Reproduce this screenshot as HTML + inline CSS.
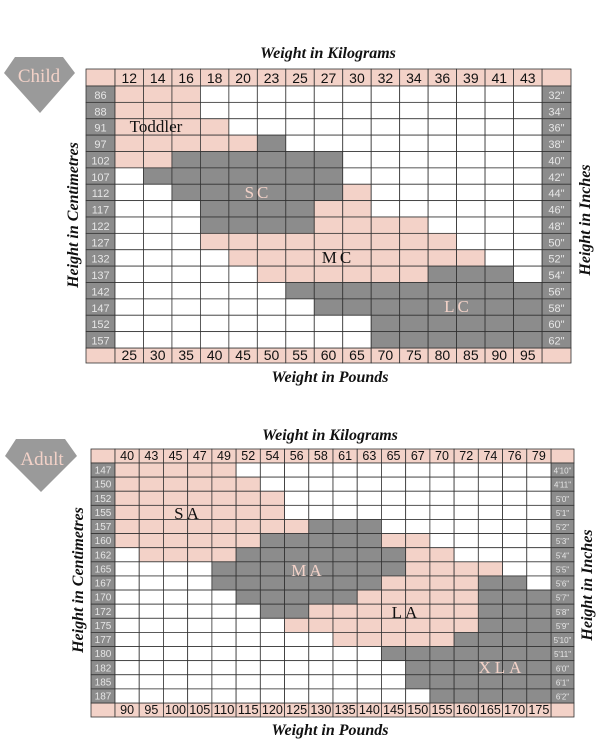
<!DOCTYPE html>
<html><head><meta charset="utf-8"><style>
body{margin:0;background:#fff;width:600px;height:750px;overflow:hidden}
svg{display:block}
.t{font-family:"Liberation Serif",serif;font-style:italic;font-weight:bold;font-size:16px;fill:#111}
.n{font-family:"Liberation Sans",sans-serif;fill:#111}
.w{font-family:"Liberation Sans",sans-serif;fill:#e6e6e6}
.lab{font-family:"Liberation Serif",serif;font-size:17px}
</style></head><body>
<svg id="s" width="600" height="750" xmlns="http://www.w3.org/2000/svg"></svg>
<script>
const P='#f3d2c8',G='#8c8c8c',W='#ffffff';
let h='';
function rect(x,y,w,hh,f){h+=`<rect x="${x}" y="${y}" width="${w}" height="${hh}" fill="${f}" stroke="#333" stroke-width="0.8"/>`;}
function txt(x,y,s,c,sz,extra){h+=`<text x="${x}" y="${y}" class="${c}" font-size="${sz}" text-anchor="middle" ${extra||''}>${s}</text>`;}
function chart(o){
 const cw=(o.x2-o.x1)/o.top.length, rh=(o.y2-o.y1)/o.left.length;
 rect(o.x0,o.y0,o.x1-o.x0,o.y1-o.y0,P);
 rect(o.x2,o.y0,o.x3-o.x2,o.y1-o.y0,P);
 rect(o.x0,o.y2,o.x1-o.x0,o.y3-o.y2,P);
 rect(o.x2,o.y2,o.x3-o.x2,o.y3-o.y2,P);
 o.top.forEach((v,i)=>{rect(o.x1+i*cw,o.y0,cw,o.y1-o.y0,P);txt(o.x1+i*cw+cw/2,o.y1-3,v,'n',o.hs);
  rect(o.x1+i*cw,o.y2,cw,o.y3-o.y2,P);
  const b=String(o.bot[i]);
  txt(o.x1+i*cw+cw/2,o.y3-3,b,'n',o.hs,(o.bx&&b.length==3)?o.bx:'');});
 o.left.forEach((v,r)=>{
  rect(o.x0,o.y1+r*rh,o.x1-o.x0,rh,G);txt((o.x0+o.x1)/2,o.y1+r*rh+rh-3.5,v,'w',o.ls);
  rect(o.x2,o.y1+r*rh,o.x3-o.x2,rh,G);txt((o.x2+o.x3)/2,o.y1+r*rh+rh-3.5,o.right[r],'w',o.rs,o.rx||'');
  const row=o.map[r];
  for(let c=0;c<o.top.length;c++){
   let f=W;
   for(const [a,b,col] of row){if(c>=a&&c<=b)f=col;}
   rect(o.x1+c*cw,o.y1+r*rh,cw,rh,f);
  }
 });
}
const p=(a,b)=>[a,b,P],g=(a,b)=>[a,b,G];
chart({x0:86,x1:115,x2:542,x3:571,y0:69,y1:86,y2:348,y3:363,hs:14,ls:11,rs:11,
 top:[12,14,16,18,20,23,25,27,30,32,34,36,39,41,43],
 bot:[25,30,35,40,45,50,55,60,65,70,75,80,85,90,95],
 left:[86,88,91,97,102,107,112,117,122,127,132,137,142,147,152,157],
 right:['32"','34"','36"','38"','40"','42"','44"','46"','48"','50"','52"','54"','56"','58"','60"','62"'],
 map:[[p(0,2)],[p(0,2)],[p(0,3)],[p(0,4),g(5,5)],[p(0,1),g(2,7)],[g(1,7)],[g(2,7),p(8,8)],[g(3,6),p(7,8)],[g(3,6),p(7,10)],[p(3,11)],[p(4,12)],[p(5,10),g(11,13)],[g(6,14)],[g(7,14)],[g(9,14)],[g(9,14)]]});
chart({x0:91,x1:115,x2:551,x3:574,y0:449,y1:463,y2:703,y3:717,hs:12.5,ls:10,rs:8,bx:'textLength="21" lengthAdjust="spacingAndGlyphs"',
 top:[40,43,45,47,49,52,54,56,58,61,63,65,67,70,72,74,76,79],
 bot:[90,95,100,105,110,115,120,125,130,135,140,145,150,155,160,165,170,175],
 left:[147,150,152,155,157,160,162,165,167,170,172,175,177,180,182,185,187],
 right:["4'10\"","4'11\"","5'0\"","5'1\"","5'2\"","5'3\"","5'4\"","5'5\"","5'6\"","5'7\"","5'8\"","5'9\"","5'10\"","5'11\"","6'0\"","6'1\"","6'2\""],
 map:[[p(0,4)],[p(0,5)],[p(0,6)],[p(0,6)],[p(0,7),g(8,10)],[p(0,5),g(6,10),p(11,12)],[p(1,4),g(5,11),p(12,13)],[g(4,11),p(12,15)],[g(4,10),p(11,14),g(15,16)],[g(5,9),p(10,14),g(15,17)],[g(6,7),p(8,14),g(15,17)],[p(7,14),g(15,17)],[p(9,13),g(14,17)],[g(11,17)],[g(12,17)],[g(12,17)],[g(13,17)]]});
h+=`<text x="156" y="132" class="lab" fill="#111" text-anchor="middle">Toddler</text>`;
h+=`<text x="258" y="198" class="lab" fill="#f3d2c8" text-anchor="middle" letter-spacing="3">SC</text>`;
h+=`<text x="338" y="263" class="lab" fill="#111" text-anchor="middle" letter-spacing="3">MC</text>`;
h+=`<text x="458" y="312" class="lab" fill="#f3d2c8" text-anchor="middle" letter-spacing="3">LC</text>`;
h+=`<text x="188" y="519" class="lab" fill="#111" text-anchor="middle" letter-spacing="3">SA</text>`;
h+=`<text x="308" y="576" class="lab" fill="#f3d2c8" text-anchor="middle" letter-spacing="3">MA</text>`;
h+=`<text x="406" y="618" class="lab" fill="#111" text-anchor="middle" letter-spacing="3">LA</text>`;
h+=`<text x="502" y="673" class="lab" fill="#f3d2c8" text-anchor="middle" letter-spacing="4">XLA</text>`;
const T=(x,y,s,rot)=>{h+=`<text x="${x}" y="${y}" class="t" text-anchor="middle" ${rot?`transform="rotate(${rot} ${x} ${y})"`:''}>${s}</text>`;};
T(328,58,'Weight in Kilograms');T(330,382,'Weight in Pounds');
T(78,215,'Height in Centimetres',-90);T(590,220,'Height in Inches',-90);
T(330,440,'Weight in Kilograms');T(330,735,'Weight in Pounds');
T(83,580,'Height in Centimetres',-90);T(592,585,'Height in Inches',-90);
h+=`<polygon points="4,73 15,57 63,57 75,73 40,113" fill="#9a9a9a"/>`;
h+=`<text x="39" y="82" font-family="Liberation Serif,serif" font-size="19" fill="#f3d2c8" text-anchor="middle">Child</text>`;
h+=`<polygon points="5,456 16,439 65,439 77,456 41,492" fill="#9a9a9a"/>`;
h+=`<text x="42" y="465" font-family="Liberation Serif,serif" font-size="19" fill="#f3d2c8" text-anchor="middle">Adult</text>`;
document.getElementById('s').innerHTML=h;
</script>
</body></html>
